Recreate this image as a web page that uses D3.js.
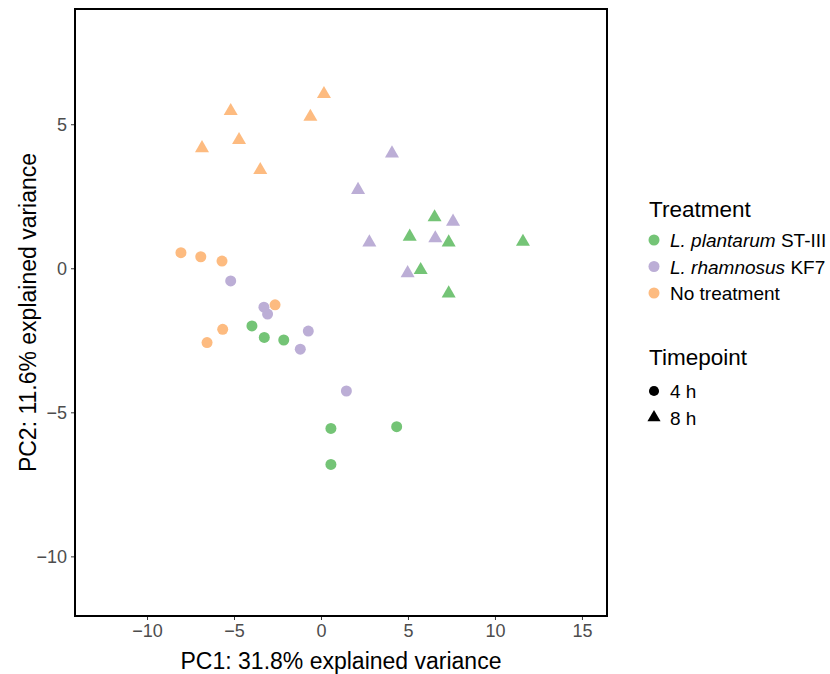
<!DOCTYPE html>
<html lang="en">
<head>
    <meta charset="UTF-8">
    <title>PCA</title>
    <script src="https://d3js.org/d3.v7.min.js"></script>
    <style>
        body { margin: 0; background: #fff; }
        text { font-family: "Liberation Sans", Arial, sans-serif; }
        .tick text { fill: #4d4d4d; font-size: 18px; }
        .tick line { stroke: #333; }
    </style>
</head>
<body>
    <svg width="830" height="674"></svg>
    <script>
        // treatment groups + colours
        var treatments = ["L. plantarum ST-III", "L. rhamnosus KF7", "No treatment"];
        var treatmentItalic = ["L. plantarum", "L. rhamnosus", ""];
        var treatmentRest = [" ST-III", " KF7", "No treatment"];
        var colors = ["#74c476", "#bcaed6", "#fdbb80"];
        var timepoints = ["4 h", "8 h"];

        // PC scores, per treatment and timepoint
        var plant4hPC1 = [-3.97, -3.26, -2.14, 0.57, 0.57, 4.35];
        var plant4hPC2 = [-2.00, -2.40, -2.49, -5.56, -6.81, -5.50];
        var plant8hPC1 = [6.53, 5.10, 7.34, 11.61, 5.73, 7.34];
        var plant8hPC2 = [1.77, 1.10, 0.90, 0.92, -0.06, -0.87];

        var rham4hPC1 = [-5.19, -3.28, -3.07, -0.73, -1.19, 1.46];
        var rham4hPC2 = [-0.44, -1.35, -1.59, -2.18, -2.81, -4.26];
        var rham8hPC1 = [4.08, 2.13, 2.78, 7.59, 6.57, 4.98];
        var rham8hPC2 = [3.99, 2.72, 0.90, 1.62, 1.04, -0.17];

        var none4hPC1 = [-8.05, -6.91, -5.69, -2.64, -5.65, -6.55];
        var none4hPC2 = [0.54, 0.40, 0.25, -1.27, -2.12, -2.58];
        var none8hPC1 = [0.17, -5.19, -0.61, -4.71, -6.84, -3.49];
        var none8hPC2 = [6.05, 5.46, 5.26, 4.45, 4.17, 3.41];

        var xTicks = [-10, -5, 0, 5, 10, 15];
        var yTicks = [-10, -5, 0, 5];

        var series = [
            { t: 0, tp: 0, x: plant4hPC1, y: plant4hPC2 },
            { t: 1, tp: 0, x: rham4hPC1, y: rham4hPC2 },
            { t: 2, tp: 0, x: none4hPC1, y: none4hPC2 },
            { t: 0, tp: 1, x: plant8hPC1, y: plant8hPC2 },
            { t: 1, tp: 1, x: rham8hPC1, y: rham8hPC2 },
            { t: 2, tp: 1, x: none8hPC1, y: none8hPC2 }
        ];
        var points = [];
        series.forEach(function(s) {
            s.x.forEach(function(v, i) {
                points.push({ pc1: v, pc2: s.y[i], t: s.t, tp: s.tp });
            });
        });

        var svg = d3.select("svg");
        var pLeft = 75, pRight = 607, pTop = 9, pBottom = 616;

        var x = d3.scaleLinear().domain([-14.14, 16.44]).range([pLeft, pRight]);
        var y = d3.scaleLinear().domain([-12.07, 9.0]).range([pBottom, pTop]);

        var triSym = d3.symbol().type(d3.symbolTriangle).size(85);
        var circSym = d3.symbol().type(d3.symbolCircle).size(95);

        // points
        svg.append("g").selectAll("path.pt")
            .data(points)
            .enter().append("path")
            .attr("class", "pt")
            .attr("d", function(d) { return d.tp === 0 ? circSym() : triSym(); })
            .attr("transform", function(d) { return "translate(" + x(d.pc1) + "," + y(d.pc2) + ")"; })
            .attr("fill", function(d) { return colors[d.t]; });

        var fmt = function(d) { return d < 0 ? "\u2212" + Math.abs(d) : d; };

        // axes
        var xAxis = svg.append("g")
            .attr("transform", "translate(0," + pBottom + ")")
            .call(d3.axisBottom(x).tickValues(xTicks).tickSize(4).tickPadding(4).tickFormat(fmt));
        var yAxis = svg.append("g")
            .attr("transform", "translate(" + pLeft + ",0)")
            .call(d3.axisLeft(y).tickValues(yTicks).tickSize(4).tickPadding(4).tickFormat(fmt));
        xAxis.select(".domain").remove();
        yAxis.select(".domain").remove();

        // panel border
        svg.append("rect")
            .attr("x", pLeft).attr("y", pTop)
            .attr("width", pRight - pLeft).attr("height", pBottom - pTop)
            .attr("fill", "none").attr("stroke", "#000").attr("stroke-width", 2);

        // axis titles
        svg.append("text")
            .attr("x", (pLeft + pRight) / 2).attr("y", 669)
            .attr("text-anchor", "middle")
            .style("font-size", "23px")
            .text("PC1: 31.8% explained variance");
        svg.append("text")
            .attr("transform", "translate(36," + (pTop + pBottom) / 2 + ") rotate(-90)")
            .attr("text-anchor", "middle")
            .style("font-size", "23px")
            .text("PC2: 11.6% explained variance");

        // legend: treatment
        var lx = 649;
        svg.append("text").attr("x", lx).attr("y", 217)
            .style("font-size", "22.5px").text("Treatment");
        var tl = svg.append("g").selectAll("g")
            .data(treatments)
            .enter().append("g")
            .attr("transform", function(d, i) { return "translate(" + (lx + 5) + "," + (240 + i * 26.5) + ")"; });
        tl.append("circle").attr("r", 5.5).attr("fill", function(d, i) { return colors[i]; });
        var tt = tl.append("text").attr("x", 16).attr("y", 7).style("font-size", "19px");
        tt.append("tspan").style("font-style", "italic").text(function(d, i) { return treatmentItalic[i]; });
        tt.append("tspan").text(function(d, i) { return treatmentRest[i]; });

        // legend: timepoint
        svg.append("text").attr("x", lx).attr("y", 365)
            .style("font-size", "22.5px").text("Timepoint");
        var pl = svg.append("g").selectAll("g")
            .data(timepoints)
            .enter().append("g")
            .attr("transform", function(d, i) { return "translate(" + (lx + 5) + "," + (391 + i * 26.5) + ")"; });
        pl.append("path")
            .attr("d", function(d, i) {
                return i === 0 ? d3.symbol().type(d3.symbolCircle).size(80)() : d3.symbol().type(d3.symbolTriangle).size(75)();
            })
            .attr("fill", "#000");
        pl.append("text").attr("x", 16).attr("y", 7).style("font-size", "19px")
            .text(function(d) { return d; });
    </script>
</body>
</html>
